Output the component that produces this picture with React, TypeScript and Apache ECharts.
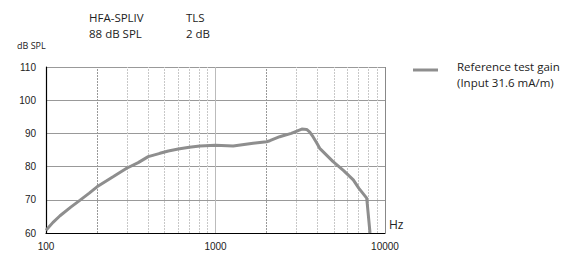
import React, { useEffect, useRef } from "react";
import * as echarts from "echarts";

const freqs = [100, 110, 121, 140, 159, 180, 200, 250, 299, 350, 401, 470, 527, 603, 700, 809, 1000, 1271, 1667, 2000, 2093, 2393, 2500, 2800, 3230, 3450, 3600, 3760, 3950, 4120, 4940, 5700, 6500, 7000, 7800, 8160];
const gains = [60.8, 63.2, 65.2, 67.8, 69.9, 72.0, 73.9, 77.0, 79.5, 81.2, 83.0, 84.0, 84.7, 85.3, 85.8, 86.2, 86.4, 86.2, 87.0, 87.5, 87.8, 89.0, 89.3, 90.0, 91.3, 91.2, 90.4, 89.0, 87.2, 85.5, 81.5, 78.8, 76.0, 73.5, 70.5, 60];
const minorFreqs = [200, 300, 400, 500, 600, 700, 800, 900, 2000, 3000, 4000, 5000, 6000, 7000, 8000, 9000];
const yTicks = [60, 70, 80, 90, 100, 110];
const seriesName = "Reference test gain";

export default function App() {
  const ref = useRef<HTMLDivElement>(null);
  useEffect(() => {
    if (!ref.current) return;
    const chart = echarts.init(ref.current, null, { renderer: "svg" });
    const tickFont = "'Liberation Sans', Arial, sans-serif";
    const headFont = "'Open Sans', sans-serif";
    const txt = (text: string, left: number, top: number, fontSize = 11.5) => ({
      type: "text",
      left,
      top,
      style: { text, fontSize, fontFamily: headFont, fill: "#222" },
    });
    chart.setOption({
      animation: false,
      grid: { left: 46, right: 197, top: 67, bottom: 22, containLabel: false },
      xAxis: {
        type: "log",
        logBase: 10,
        min: 100,
        max: 10000,
        axisLine: { show: true, onZero: false, lineStyle: { color: "#000", width: 1.2 } },
        axisTick: { show: false },
        axisLabel: { color: "#222", fontSize: 10, fontFamily: tickFont, margin: 8, formatter: (v: number) => String(Math.round(v)) },
        splitLine: { show: true, lineStyle: { color: "#bbb", width: 1 } },
        minorTick: { show: false },
        minorSplitLine: { show: false },
      },
      yAxis: {
        type: "value",
        min: yTicks[0],
        max: yTicks[yTicks.length - 1],
        interval: 10,
        axisLine: { show: true, lineStyle: { color: "#000", width: 1.2 } },
        axisTick: { show: false },
        axisLabel: { color: "#222", fontSize: 10, fontFamily: tickFont, margin: 10 },
        splitLine: { show: true, lineStyle: { color: "#999", width: 1 } },
      },
      series: [
        {
          name: seriesName,
          type: "line",
          data: freqs.map((f, i) => [f, gains[i]]),
          symbol: "none",
          smooth: false,
          lineStyle: { color: "#8e8e8e", width: 3 },
          clip: true,
          z: 5,
          markLine: {
            silent: true,
            symbol: "none",
            label: { show: false },
            z: 1,
            data: [
              ...minorFreqs.map((f) => ({
                xAxis: f,
                lineStyle: {
                  color: f === 200 || f === 2000 ? "#999" : "#c8c8c8",
                  type: [2, 1],
                  width: 1,
                },
              })),
              { xAxis: 10000, lineStyle: { color: "#888", type: "solid", width: 1 } },
            ],
          },
        },
      ],
      graphic: [
        txt("HFA-SPLIV", 89, 11),
        txt("88 dB SPL", 89, 27),
        txt("TLS", 186, 11),
        txt("2 dB", 186, 27),
        txt("dB SPL", 17, 41, 9),
        txt("Hz", 389, 218, 12),
        { type: "line", shape: { x1: 413, y1: 70, x2: 438, y2: 70 }, style: { stroke: "#8e8e8e", lineWidth: 3 } },
        txt("Reference test gain", 457, 60),
        txt("(Input 31.6 mA/m)", 457, 76),
      ],
    });
    return () => chart.dispose();
  }, []);
  return <div ref={ref} style={{ width: 582, height: 255, position: "absolute", left: 0, top: 0 }} />;
}
